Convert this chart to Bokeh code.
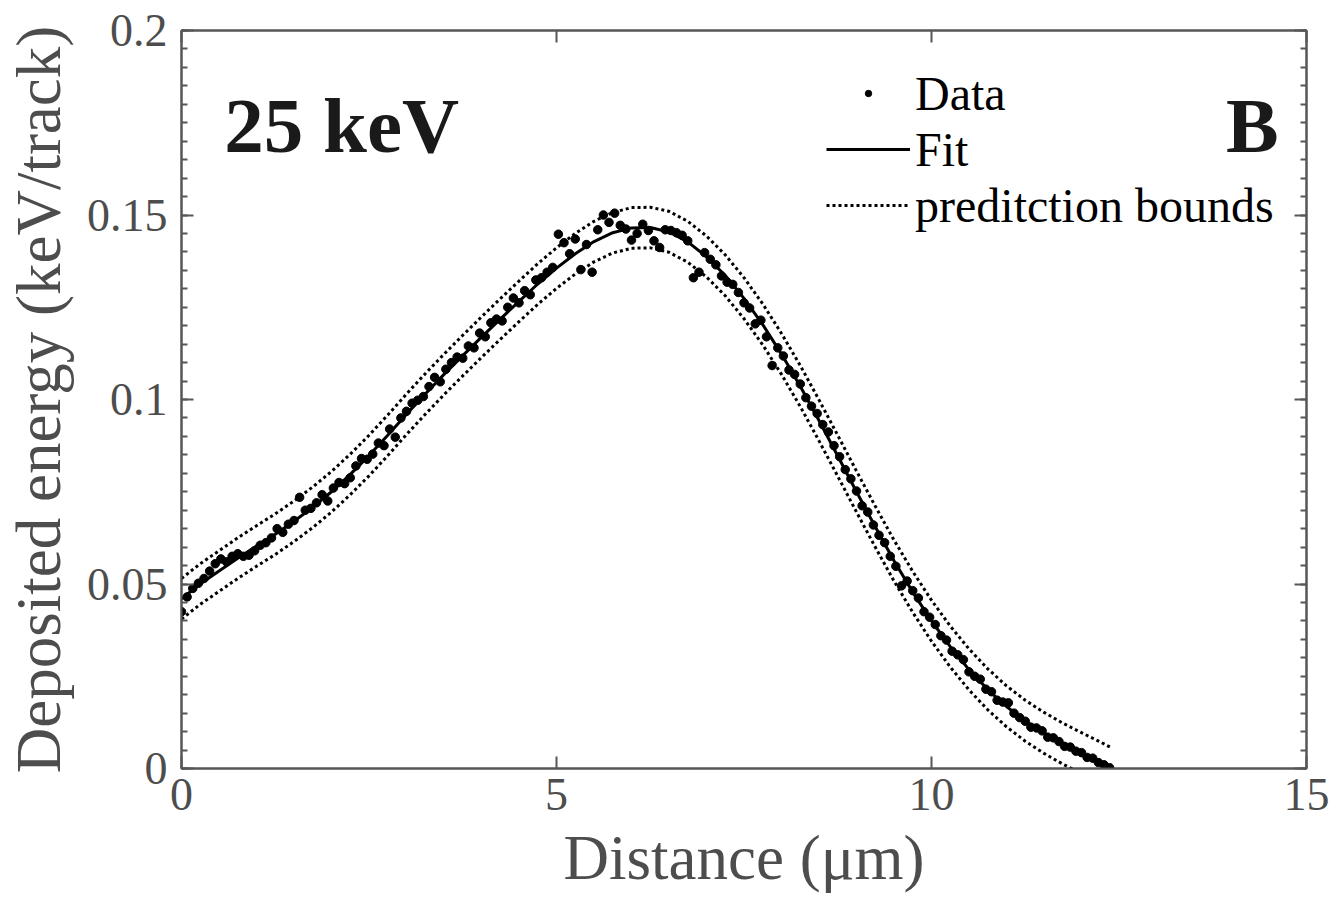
from bokeh.plotting import figure
from bokeh.models import (Range1d, FixedTicker, LinearAxis, Label, Legend,
                          LegendItem, NumeralTickFormatter)
from bokeh.embed import file_html
from bokeh.resources import INLINE

# ---------------- data ----------------
distance = [
    0, 0.075, 0.15, 0.225, 0.3, 0.375, 0.45, 0.525, 0.6, 0.675,
    0.75, 0.825, 0.9, 0.975, 1.05, 1.125, 1.2, 1.275, 1.35, 1.425,
    1.5, 1.575, 1.65, 1.725, 1.8, 1.875, 1.95, 2.025, 2.1, 2.175,
    2.25, 2.325, 2.4, 2.475, 2.55, 2.625, 2.7, 2.775, 2.85, 2.925,
    3.0, 3.075, 3.15, 3.225, 3.3, 3.375, 3.45, 3.525, 3.6, 3.675,
    3.75, 3.825, 3.9, 3.975, 4.05, 4.125, 4.2, 4.275, 4.35, 4.425,
    4.5, 4.575, 4.65, 4.725, 4.8, 4.875, 4.95, 5.025, 5.1, 5.175,
    5.25, 5.325, 5.4, 5.475, 5.55, 5.625, 5.7, 5.775, 5.85, 5.925,
    6.0, 6.075, 6.15, 6.225, 6.3, 6.375, 6.45, 6.525, 6.6, 6.675,
    6.75, 6.825, 6.9, 6.975, 7.05, 7.125, 7.2, 7.275, 7.35, 7.425,
    7.5, 7.575, 7.65, 7.725, 7.8, 7.875, 7.95, 8.025, 8.1, 8.175,
    8.25, 8.325, 8.4, 8.475, 8.55, 8.625, 8.7, 8.775, 8.85, 8.925,
    9.0, 9.075, 9.15, 9.225, 9.3, 9.375, 9.45, 9.525, 9.6, 9.675,
    9.75, 9.825, 9.9, 9.975, 10.05, 10.125, 10.2, 10.275, 10.35, 10.425,
    10.5, 10.575, 10.65, 10.725, 10.8, 10.875, 10.95, 11.025, 11.1, 11.175,
    11.25, 11.325, 11.4, 11.475, 11.55, 11.625, 11.7, 11.775, 11.85, 11.925,
    12.0, 12.075, 12.15, 12.225, 12.3, 12.375,
]
energy = [
    0.0425, 0.0465, 0.0488, 0.0502, 0.0515, 0.0535, 0.0555, 0.0568, 0.0560, 0.0575,
    0.0582, 0.0575, 0.0578, 0.0590, 0.0605, 0.0612, 0.0625, 0.0650, 0.0640, 0.0662,
    0.0672, 0.0735, 0.0700, 0.0705, 0.0720, 0.0742, 0.0725, 0.0760, 0.0775, 0.0772,
    0.0788, 0.0820, 0.0840, 0.0838, 0.0852, 0.0882, 0.0875, 0.0920, 0.0898, 0.0950,
    0.0968, 0.0990, 0.0998, 0.1008, 0.1035, 0.1060, 0.1048, 0.1082, 0.1100, 0.1115,
    0.1112, 0.1145, 0.1140, 0.1180, 0.1170, 0.1208, 0.1218, 0.1213, 0.1250, 0.1275,
    0.1262, 0.1295, 0.1284, 0.1324, 0.1330, 0.1345, 0.1358, 0.1448, 0.1425, 0.1395,
    0.1435, 0.1352, 0.1420, 0.1345, 0.1460, 0.1500, 0.1480, 0.1505, 0.1472, 0.1462,
    0.1432, 0.1450, 0.1475, 0.1458, 0.1430, 0.1412, 0.1460, 0.1458, 0.1452, 0.1445,
    0.1430, 0.1330, 0.1345, 0.1398, 0.1380, 0.1365, 0.1335, 0.1318, 0.1312, 0.1290,
    0.1262, 0.1248, 0.1205, 0.1215, 0.1170, 0.1092, 0.1140, 0.1118, 0.1080, 0.1068,
    0.1042, 0.1005, 0.0982, 0.0962, 0.0932, 0.0912, 0.0875, 0.0845, 0.0810, 0.0785,
    0.0752, 0.0712, 0.0695, 0.0660, 0.0632, 0.0612, 0.0575, 0.0548, 0.0495, 0.0508,
    0.0482, 0.0462, 0.0425, 0.0410, 0.0390, 0.0360, 0.0348, 0.0318, 0.0308, 0.0295,
    0.0262, 0.0250, 0.0242, 0.0215, 0.0208, 0.0185, 0.0180, 0.0178, 0.0150, 0.0138,
    0.0128, 0.0112, 0.0110, 0.0102, 0.0085, 0.0083, 0.0073, 0.0060, 0.0058, 0.0047,
    0.0043, 0.0030, 0.0028, 0.0016, 0.0010, 0.0002,
]

fit_x = [
    0, 0.25, 0.5, 0.75, 1, 1.25, 1.5, 1.75, 2, 2.25, 2.5, 2.75, 3, 3.25, 3.5, 3.75,
    4, 4.25, 4.5, 4.75, 5, 5.25, 5.5, 5.75, 6, 6.25, 6.5, 6.75, 7, 7.25, 7.5, 7.75,
    8, 8.25, 8.5, 8.75, 9, 9.25, 9.5, 9.75, 10, 10.25, 10.5, 10.75, 11, 11.25, 11.5,
    11.75, 12, 12.25, 12.4,
]
fit_y = [
    0.0460, 0.0500, 0.0535, 0.0570, 0.0603, 0.0635, 0.0670, 0.0708, 0.0750, 0.0797,
    0.0848, 0.0903, 0.0960, 0.1015, 0.1068, 0.1119, 0.1169, 0.1218, 0.1266, 0.1313,
    0.1356, 0.1395, 0.1428, 0.1452, 0.1465, 0.1466, 0.1454, 0.1427, 0.1387, 0.1336,
    0.1274, 0.1203, 0.1123, 0.1036, 0.0943, 0.0847, 0.0750, 0.0655, 0.0563, 0.0478,
    0.0400, 0.0330, 0.0268, 0.0214, 0.0168, 0.0129, 0.0096, 0.0067, 0.0041, 0.0016,
    0.0000,
]
upper_y = [
    0.0515, 0.0555, 0.0590, 0.0625, 0.0658, 0.0690, 0.0725, 0.0763, 0.0805, 0.0852,
    0.0903, 0.0958, 0.1015, 0.1070, 0.1123, 0.1174, 0.1224, 0.1273, 0.1321, 0.1368,
    0.1411, 0.1450, 0.1483, 0.1507, 0.1520, 0.1521, 0.1510, 0.1483, 0.1443, 0.1392,
    0.1330, 0.1259, 0.1179, 0.1092, 0.0999, 0.0903, 0.0806, 0.0711, 0.0619, 0.0534,
    0.0456, 0.0386, 0.0324, 0.0270, 0.0224, 0.0185, 0.0152, 0.0123, 0.0097, 0.0072,
    0.0056,
]
lower_y = [
    0.0405, 0.0445, 0.0480, 0.0515, 0.0548, 0.0580, 0.0615, 0.0653, 0.0695, 0.0742,
    0.0793, 0.0848, 0.0905, 0.0960, 0.1013, 0.1064, 0.1114, 0.1163, 0.1211, 0.1258,
    0.1301, 0.1340, 0.1373, 0.1397, 0.1410, 0.1411, 0.1399, 0.1372, 0.1332, 0.1281,
    0.1219, 0.1148, 0.1068, 0.0981, 0.0888, 0.0792, 0.0695, 0.0600, 0.0508, 0.0423,
    0.0345, 0.0275, 0.0213, 0.0159, 0.0113, 0.0074, 0.0041, 0.0012, -0.0014, -0.0039,
    -0.0055,
]

x_ticks = [0, 5, 10, 15]
y_ticks = [0, 0.05, 0.1, 0.15, 0.2]
y_minor = [i * 0.005 for i in range(41)]

FONT = "Liberation Serif"
AXC = "#575757"
TXC = "#4d4d4d"

p = figure(width=1330, height=913, output_backend="svg", toolbar_location=None,
           x_range=Range1d(0, 15), y_range=Range1d(0, 0.2),
           min_border_left=179, min_border_right=24, min_border_top=30,
           min_border_bottom=145, background_fill_color="white",
           border_fill_color="white")
p.grid.visible = False
p.outline_line_color = AXC
p.outline_line_width = 2

xt = FixedTicker(ticks=x_ticks, minor_ticks=[])
yt = FixedTicker(ticks=y_ticks, minor_ticks=y_minor)


def style_axis(ax, labels=True):
    ax.axis_line_color = AXC
    ax.axis_line_width = 2
    ax.major_tick_line_color = AXC
    ax.minor_tick_line_color = AXC
    ax.major_tick_line_width = 2
    ax.minor_tick_line_width = 2
    ax.major_tick_in = 12
    ax.major_tick_out = 0
    ax.minor_tick_in = 6
    ax.minor_tick_out = 0
    if labels:
        ax.major_label_text_font = FONT
        ax.major_label_text_font_size = "46px"
        ax.major_label_text_color = TXC
        ax.axis_label_text_font = FONT
        ax.axis_label_text_font_size = "63px"
        ax.axis_label_text_font_style = "normal"
        ax.axis_label_text_color = TXC
    else:
        ax.major_label_text_font_size = "1px"
        ax.major_label_text_color = None
        ax.major_label_standoff = 0


xa = p.xaxis[0]
ya = p.yaxis[0]
xa.ticker = xt
ya.ticker = yt
ya.formatter = NumeralTickFormatter(format="0.[00]")
style_axis(xa)
style_axis(ya)
xa.axis_label = "Distance (μm)"
ya.axis_label = "Deposited energy (keV/track)"
xa.major_label_standoff = 10
xa.axis_label_standoff = 10
ya.major_label_standoff = 14
ya.axis_label_standoff = 10

top = LinearAxis(ticker=xt)
right = LinearAxis(ticker=yt)
style_axis(top, labels=False)
style_axis(right, labels=False)
p.add_layout(top, "above")
p.add_layout(right, "right")

r_data = p.scatter(distance, energy, size=8.5, color="black")
r_fit = p.line(fit_x, fit_y, line_color="black", line_width=3)
r_up = p.line(fit_x, upper_y, line_color="black", line_width=3, line_dash="3 3")
r_lo = p.line(fit_x, lower_y, line_color="black", line_width=3, line_dash="3 3")

legend = Legend(items=[
    LegendItem(label="Data", renderers=[r_data]),
    LegendItem(label="Fit", renderers=[r_fit]),
    LegendItem(label="preditction bounds", renderers=[r_up]),
], location=(645, 535), glyph_width=84, glyph_height=16, label_height=56,
    label_standoff=5, padding=0, spacing=0, margin=0,
    label_text_font=FONT, label_text_font_size="48px", label_text_color="black",
    border_line_alpha=0, background_fill_alpha=0)
p.add_layout(legend)

p.add_layout(Label(x=0.57, y=0.1743, text="25 keV", text_font=FONT,
                   text_font_style="bold", text_font_size="79px",
                   text_color="#1a1a1a", text_baseline="alphabetic"))
p.add_layout(Label(x=14.63, y=0.1743, text="B", text_font=FONT,
                   text_font_style="bold", text_font_size="79px",
                   text_color="#1a1a1a", text_align="right",
                   text_baseline="alphabetic"))

open("out.html", "w").write(file_html(p, INLINE))
